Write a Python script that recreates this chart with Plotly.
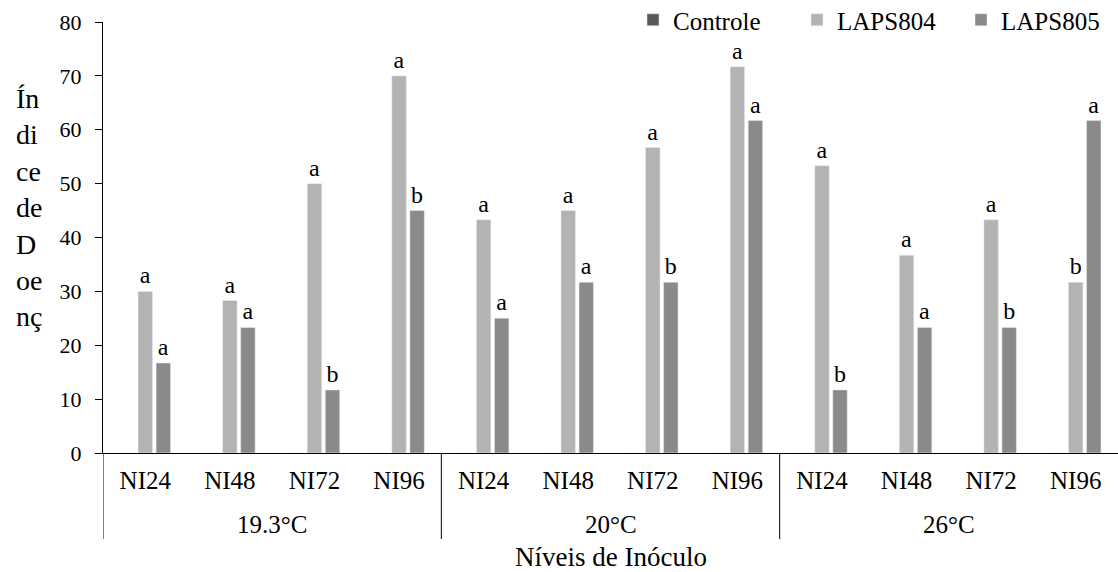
import plotly.graph_objects as go

grupos = ["19.3°C", "20°C", "26°C"]
niveis = ["NI24", "NI48", "NI72", "NI96"] * 3
posicoes = list(range(len(niveis)))
controle = [0] * 12
laps804 = [30.0, 28.3, 50.0, 70.0, 43.3, 45.0, 56.7, 71.7, 53.3, 36.7, 43.3, 31.7]
laps805 = [16.7, 23.3, 11.7, 45.0, 25.0, 31.7, 31.7, 61.7, 11.7, 23.3, 23.3, 61.7]
letras804 = ["a"] * 11 + ["b"]
letras805 = ["a", "a", "b", "b", "a", "a", "b", "a", "b", "a", "b", "a"]
y_ticks = [0, 10, 20, 30, 40, 50, 60, 70, 80]

FONT = "Liberation Serif"
W, H = 1118, 572
ML, MR, MT, MB = 103, 0, 22, 119
PW, PH = W - ML - MR, H - MT - MB


def py(pix):
    """pixel row -> paper y"""
    return (H - MB - pix) / PH


fig = go.Figure()
fig.add_trace(go.Bar(name="Controle", x=posicoes, y=controle, marker_color="#595959"))
fig.add_trace(go.Bar(name="LAPS804", x=posicoes, y=laps804, marker_color="#b3b3b3",
                     text=letras804, textposition="outside", constraintext="none",
                     cliponaxis=False, textfont=dict(size=24, color="#000", family=FONT)))
fig.add_trace(go.Bar(name="LAPS805", x=posicoes, y=laps805, marker_color="#8a8a8a",
                     text=letras805, textposition="outside", constraintext="none",
                     cliponaxis=False, textfont=dict(size=24, color="#000", family=FONT)))

fig.update_layout(
    width=W, height=H,
    margin=dict(l=ML, r=MR, t=MT, b=MB, autoexpand=False),
    paper_bgcolor="white", plot_bgcolor="white",
    font=dict(family=FONT, size=22, color="#000"),
    barmode="group", bargap=0.36, bargroupgap=0.2,
    showlegend=True,
    legend=dict(orientation="h", x=1.0 + 7 / PW, xanchor="right", y=1.0 + 2 / PH, yanchor="middle",
                font=dict(size=25, family=FONT), entrywidth=119, entrywidthmode="pixels",
                itemwidth=30, bgcolor="rgba(0,0,0,0)", traceorder="normal"),
    xaxis=dict(range=[-0.5, 11.5], tickvals=posicoes, ticktext=niveis, showline=True,
               linecolor="#000", linewidth=1, ticks="", showgrid=False, zeroline=False,
               tickfont=dict(size=25, family=FONT), ticklabelstandoff=5),
    yaxis=dict(range=[0, 80], tickvals=y_ticks, showline=True, linecolor="#000", linewidth=1,
               ticks="outside", ticklen=7, tickcolor="#000", showgrid=False, zeroline=False,
               tickfont=dict(size=22, family=FONT), ticklabelstandoff=9),
)

# group labels and dividers below the category axis
for i, g in enumerate(grupos):
    fig.add_annotation(text=g, x=4 * i + 1.5, xref="x", y=py(524), yref="paper",
                       showarrow=False, xanchor="center", yanchor="middle",
                       font=dict(size=25, family=FONT, color="#000"))
for i in range(len(grupos)):
    fig.add_shape(type="line", x0=4 * i - 0.5, x1=4 * i - 0.5, xref="x",
                  y0=0, y1=py(539), yref="paper", line=dict(color="#000", width=1))

fig.add_annotation(text="Níveis de Inóculo", x=0.5, xref="paper", y=py(557), yref="paper",
                   showarrow=False, xanchor="center", yanchor="middle",
                   font=dict(size=27, family=FONT, color="#000"))

fig.add_annotation(text="Ín<br>di<br>ce<br>de<br>D<br>oe<br>nç", xref="paper", yref="paper",
                   x=(14 - ML) / PW, y=py(81), xanchor="left", yanchor="top",
                   align="left", showarrow=False, font=dict(size=28, family=FONT, color="#000"))

fig.write_html("out.html")
